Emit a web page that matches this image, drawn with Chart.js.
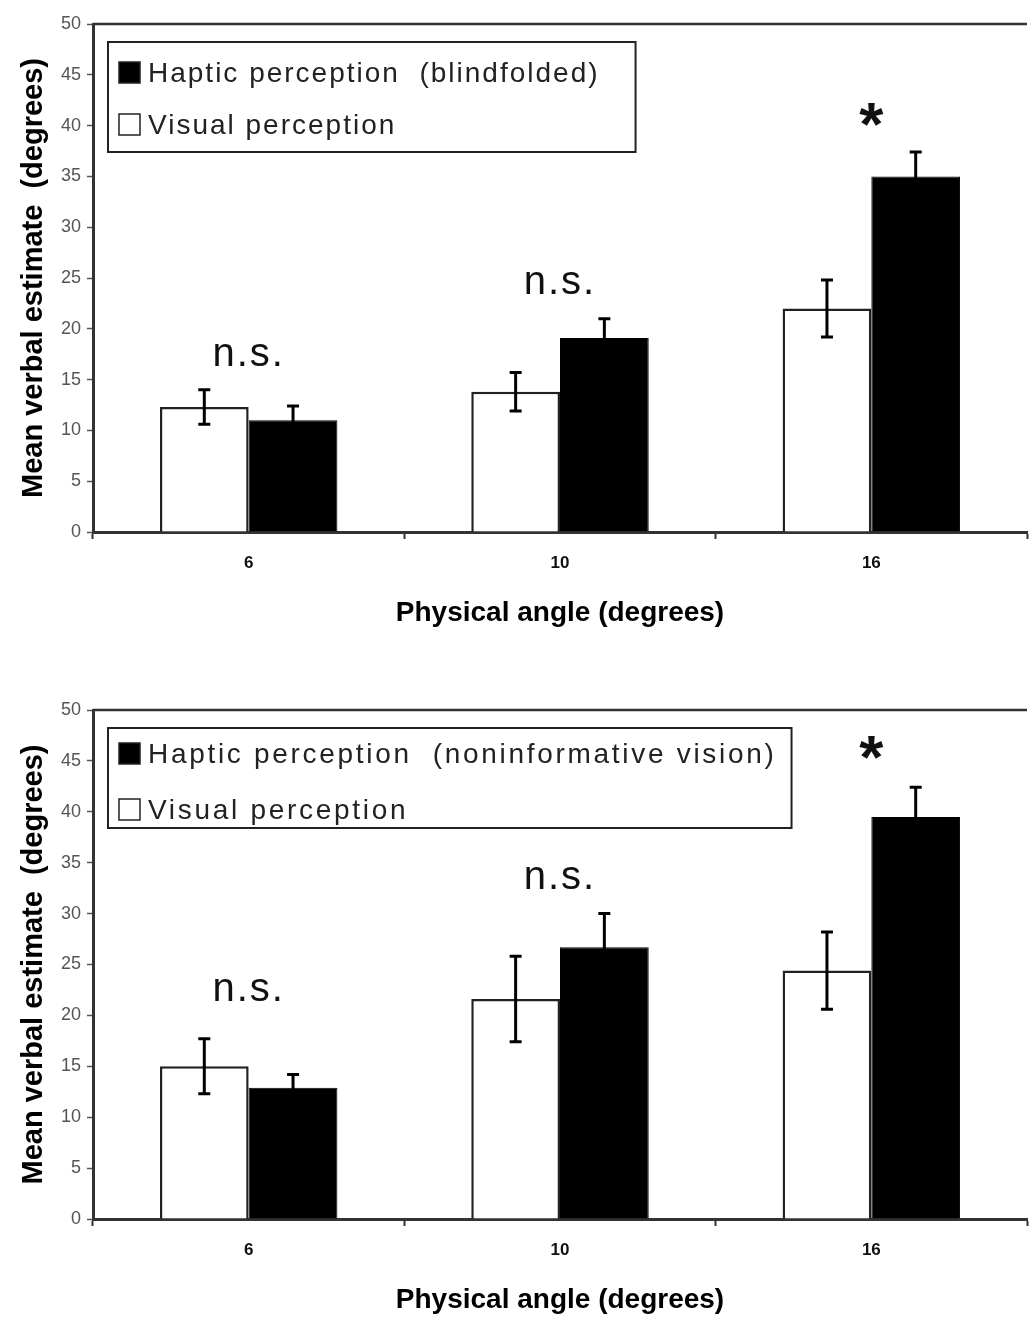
<!DOCTYPE html>
<html>
<head>
<meta charset="utf-8">
<script src="https://cdn.jsdelivr.net/npm/chart.js@4"></script>
<style>
  body { margin: 0; background: #fff; }
  .panel { width: 1029px; height: 660px; }
</style>
</head>
<body>
<div class="panel"><canvas id="top-chart" width="1029" height="660"></canvas></div>
<div class="panel"><canvas id="bottom-chart" width="1029" height="660"></canvas></div>
<script>
// --- DATA ---
const categories = ['6', '10', '16'];
const yTicks = [0, 5, 10, 15, 20, 25, 30, 35, 40, 45, 50];

const visualLabel = 'Visual perception';
const topHapticLabel = 'Haptic perception  (blindfolded)';
const bottomHapticLabel = 'Haptic perception  (noninformative vision)';

// top panel: blindfolded
const topVisual = [12.3, 13.8, 22.0];
const topVisualErr = [1.7, 1.9, 2.8];
const topHaptic = [11.0, 19.1, 35.0];
const topHapticErr = [1.4, 1.9, 2.4];

// bottom panel: noninformative vision
const bottomVisual = [15.0, 21.6, 24.4];
const bottomVisualErr = [2.7, 4.2, 3.8];
const bottomHaptic = [12.9, 26.7, 39.5];
const bottomHapticErr = [1.3, 3.3, 2.9];

// significance marks above each group
const sigLabels = ['n.s.', 'n.s.', '*'];
const topSigLevels = [17.4, 24.5, 39.8];
const bottomSigLevels = [22.5, 33.5, 45];

const FONT = '"Liberation Sans", Arial, sans-serif';

// --- PLUGIN: error bars, significance marks, top border, boxed legend ---
const sketchPlugin = {
    id: 'sketch',
    afterDatasetsDraw(chart, args, opts) {
        const ctx = chart.ctx;
        const area = chart.chartArea;
        const yScale = chart.scales.y;
        const xScale = chart.scales.x;

        // top frame line
        ctx.save();
        ctx.strokeStyle = '#333';
        ctx.lineWidth = 2.5;
        ctx.beginPath();
        ctx.moveTo(area.left, area.top);
        ctx.lineTo(area.right, area.top);
        ctx.stroke();

        // error bars
        ctx.strokeStyle = '#000';
        ctx.lineWidth = 3;
        chart.data.datasets.forEach((ds, i) => {
            const meta = chart.getDatasetMeta(i);
            meta.data.forEach((bar, j) => {
                const v = ds.data[j];
                const e = ds.errors[j];
                const yHi = yScale.getPixelForValue(v + e);
                const yLo = yScale.getPixelForValue(v - e);
                ctx.beginPath();
                ctx.moveTo(bar.x, yHi);
                ctx.lineTo(bar.x, yLo);
                ctx.moveTo(bar.x - 6, yHi);
                ctx.lineTo(bar.x + 6, yHi);
                ctx.moveTo(bar.x - 6, yLo);
                ctx.lineTo(bar.x + 6, yLo);
                ctx.stroke();
            });
        });

        // significance labels
        ctx.fillStyle = '#111';
        ctx.textAlign = 'center';
        ctx.textBaseline = 'middle';
        opts.sig.forEach((s, j) => {
            const x = xScale.getPixelForValue(j);
            const y = yScale.getPixelForValue(opts.sigLevels[j]);
            if (s === '*') {
                ctx.letterSpacing = '0px';
                ctx.font = `bold 62px ${FONT}`;
            } else {
                ctx.letterSpacing = '2px';
                ctx.font = `40px ${FONT}`;
            }
            ctx.fillText(s, x, y);
        });

        // boxed legend (haptic first, like the original)
        const lg = opts.legend;
        const bx = area.left + lg.dx;
        const by = area.top + lg.dy;
        ctx.font = `28px ${FONT}`;
        ctx.letterSpacing = lg.spacing;
        const entries = [chart.data.datasets[1], chart.data.datasets[0]];
        const textX = bx + 40;
        const maxW = Math.max(...entries.map(d => ctx.measureText(d.label).width));
        const bw = 40 + maxW + lg.padRight;
        ctx.fillStyle = '#fff';
        ctx.fillRect(bx, by, bw, lg.h);
        ctx.strokeStyle = '#222';
        ctx.lineWidth = 2;
        ctx.strokeRect(bx, by, bw, lg.h);
        ctx.textAlign = 'left';
        entries.forEach((d, k) => {
            const cy = by + lg.firstRow + k * lg.rowGap;
            ctx.fillStyle = d.backgroundColor;
            ctx.fillRect(bx + 11, cy - 11, 21, 21);
            ctx.strokeStyle = '#222';
            ctx.lineWidth = 1.5;
            ctx.strokeRect(bx + 11, cy - 11, 21, 21);
            ctx.fillStyle = '#222';
            ctx.fillText(d.label, textX, cy + 1);
        });
        ctx.restore();
    }
};

function makeChart(canvasId, visual, visualErr, haptic, hapticErr, hapticLabel, sigLevels, layoutPad, legendCfg) {
    return new Chart(document.getElementById(canvasId), {
        type: 'bar',
        data: {
            labels: categories,
            datasets: [
                {
                    label: visualLabel,
                    data: visual,
                    errors: visualErr,
                    backgroundColor: '#fff',
                    borderColor: '#222',
                    borderWidth: 2.5,
                    categoryPercentage: 0.57,
                    barPercentage: 1.0
                },
                {
                    label: hapticLabel,
                    data: haptic,
                    errors: hapticErr,
                    backgroundColor: '#000',
                    borderColor: '#000',
                    borderWidth: 1,
                    categoryPercentage: 0.57,
                    barPercentage: 1.0
                }
            ]
        },
        options: {
            responsive: false,
            animation: false,
            layout: { padding: layoutPad },
            scales: {
                x: {
                    grid: {
                        offset: true,
                        drawOnChartArea: false,
                        drawTicks: true,
                        tickLength: 7,
                        tickWidth: 2,
                        tickColor: '#333'
                    },
                    border: { color: '#333', width: 3 },
                    ticks: { color: '#111', padding: 14, font: { family: FONT, size: 17, weight: 'bold' } },
                    title: {
                        display: true,
                        text: 'Physical angle (degrees)',
                        color: '#000',
                        font: { family: FONT, size: 28, weight: 'bold' },
                        padding: { top: 9, bottom: 0 }
                    }
                },
                y: {
                    min: 0,
                    max: 50,
                    afterBuildTicks: (scale) => { scale.ticks = yTicks.map(v => ({ value: v })); },
                    afterFit: (scale) => { scale.width = 93; },
                    grid: {
                        drawOnChartArea: false,
                        tickLength: 6,
                        tickWidth: 1.5,
                        tickColor: '#555'
                    },
                    border: { color: '#333', width: 3 },
                    ticks: { color: '#555', padding: 6, font: { family: FONT, size: 18 } },
                    title: {
                        display: true,
                        text: 'Mean verbal estimate  (degrees)',
                        color: '#000',
                        font: { family: FONT, size: 29, weight: 'bold' },
                        padding: { top: 17, bottom: 0 }
                    }
                }
            },
            plugins: {
                legend: { display: false },
                tooltip: { enabled: false },
                sketch: { sig: sigLabels, sigLevels: sigLevels, legend: legendCfg }
            }
        },
        plugins: [sketchPlugin]
    });
}

makeChart('top-chart', topVisual, topVisualErr, topHaptic, topHapticErr, topHapticLabel, topSigLevels,
    { top: 24, left: 0, right: 2, bottom: 30 },
    { dx: 15, dy: 18, h: 110, firstRow: 31, rowGap: 52, padRight: 36, spacing: '2px' });

makeChart('bottom-chart', bottomVisual, bottomVisualErr, bottomHaptic, bottomHapticErr, bottomHapticLabel, bottomSigLevels,
    { top: 50, left: 0, right: 2, bottom: 3 },
    { dx: 15, dy: 18, h: 100, firstRow: 26, rowGap: 56, padRight: 15, spacing: '2.7px' });
</script>
</body>
</html>
